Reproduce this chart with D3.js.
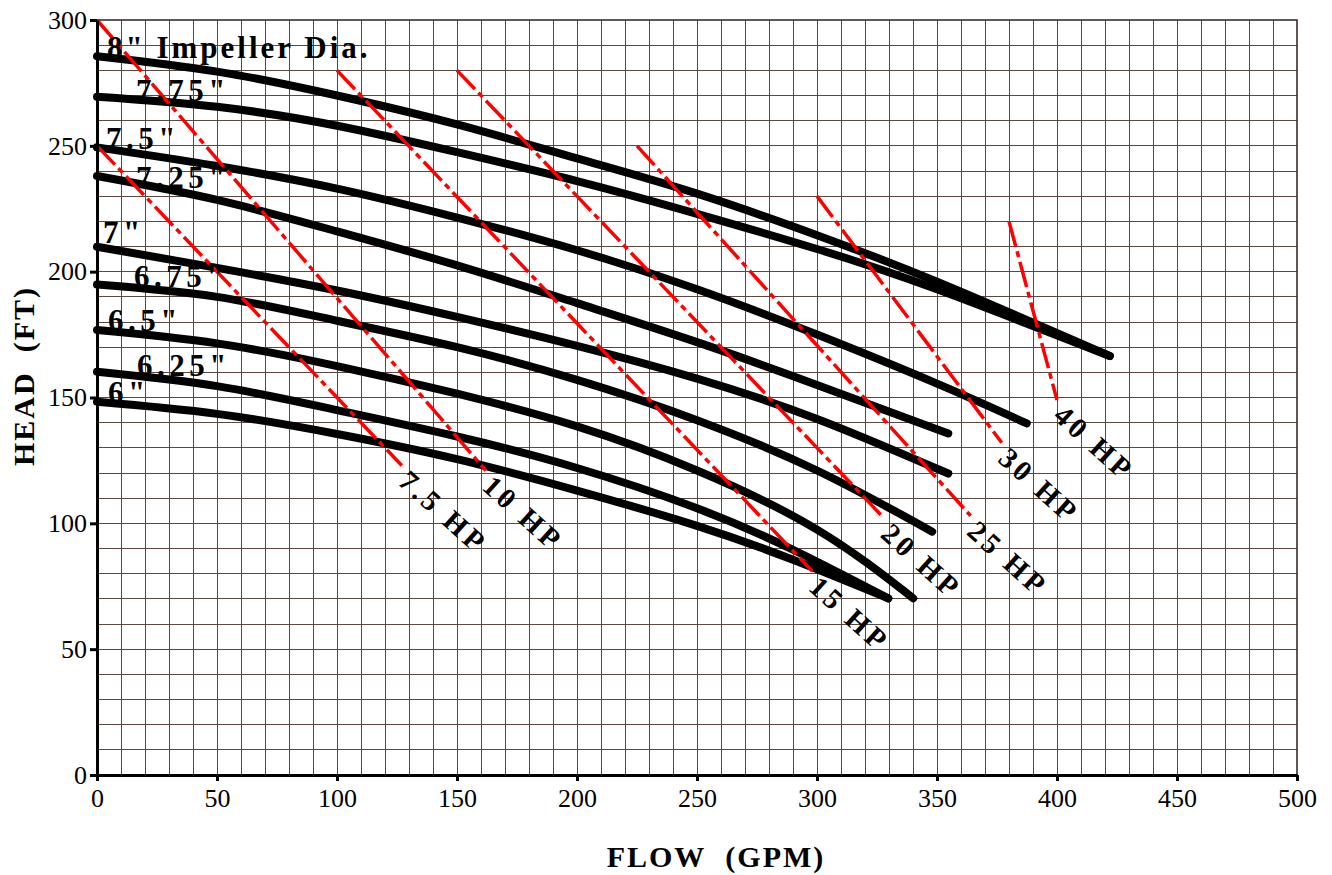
<!DOCTYPE html>
<html><head><meta charset="utf-8">
<script src="https://cdn.jsdelivr.net/npm/d3@7"></script>
<style>
html,body{margin:0;padding:0;background:#fff;}
svg{display:block;font-family:"Liberation Serif","Times New Roman",serif;}
</style></head><body>
<svg id="chart" width="1332" height="875"></svg>
<script>
// ---------------- DATA ----------------
const diameterLabels = ['8" Impeller Dia.', '7.75"', '7.5"', '7.25"', '7"', '6.75"', '6.5"', '6.25"', '6"'];

const flow800 = [0, 50, 100, 150, 200, 250, 300, 350, 422];
const head800 = [285.6, 279.5, 270, 258.5, 245, 231, 214.5, 196, 166.5];
const flow775 = [0, 50, 100, 150, 200, 250, 300, 350, 422];
const head775 = [269.5, 265.5, 258, 247.5, 236, 223, 209, 193, 166.5];
const flow750 = [0, 50, 100, 150, 200, 250, 300, 350, 387.4];
const head750 = [249.4, 242, 233, 221.5, 208.5, 193, 175, 155.5, 139.7];
const flow725 = [0, 50, 100, 150, 200, 250, 300, 354.7];
const head725 = [238, 228.5, 216, 202.5, 187.5, 172, 155, 135.7];
const flow700 = [0, 50, 100, 150, 200, 250, 300, 354.7];
const head700 = [209.9, 201.5, 192.5, 182, 170.5, 157.5, 141.5, 119.8];
const flow675 = [0, 50, 100, 150, 200, 250, 300, 348];
const head675 = [194.9, 190, 180.5, 170, 157, 141, 121, 96.7];
const flow650 = [0, 50, 100, 150, 200, 250, 300, 340.1];
const head650 = [176.8, 171.5, 162.5, 151.5, 138.5, 121, 97.5, 70.2];
const flow625 = [0, 50, 100, 150, 200, 250, 290, 329.7];
const head625 = [160.2, 154.5, 145, 134.5, 122, 106, 89.5, 70.2];
const flow600 = [0, 50, 100, 150, 200, 250, 290, 329.7];
const head600 = [148.3, 143.5, 135.5, 125.5, 113, 99, 85.5, 70.2];

const curveFlows = [flow800, flow775, flow750, flow725, flow700, flow675, flow650, flow625, flow600];
const curveHeads = [head800, head775, head750, head725, head700, head675, head650, head625, head600];

const hpLabels     = ['7.5 HP', '10 HP', '15 HP', '20 HP', '25 HP', '30 HP', '40 HP'];
const hpStartFlow  = [0, 0, 100, 150, 225, 300, 380];
const hpStartHead  = [250, 300, 280, 280, 250, 230, 220];
const hpEndFlow    = [127, 162, 298, 328, 364, 377, 400];
const hpEndHead    = [123, 121, 81, 102, 103, 132, 149];

const xTicks = [0, 50, 100, 150, 200, 250, 300, 350, 400, 450, 500];
const yTicks = [0, 50, 100, 150, 200, 250, 300];
const xTitle = 'FLOW\u00a0\u00a0(GPM)';
const yTitle = 'HEAD\u00a0\u00a0(FT)';

// ---------------- LAYOUT ----------------
const svg = d3.select('#chart');
const x = d3.scaleLinear().domain([0, 500]).range([97, 1297]);
const y = d3.scaleLinear().domain([0, 300]).range([775, 20]);

// grid
const grid = svg.append('g').attr('shape-rendering', 'crispEdges')
  .attr('stroke', '#5b4640').attr('stroke-width', 1);
grid.selectAll('line.v').data(d3.range(10, 500, 10)).enter().append('line')
  .attr('x1', d => x(d)).attr('x2', d => x(d)).attr('y1', y(300)).attr('y2', y(0));
grid.selectAll('line.h').data(d3.range(10, 300, 10)).enter().append('line')
  .attr('class', 'h')
  .attr('x1', x(0)).attr('x2', x(500)).attr('y1', d => y(d)).attr('y2', d => y(d));

// frame (top / right)
svg.append('rect').attr('x', x(0)).attr('y', y(300))
  .attr('width', x(500) - x(0)).attr('height', y(0) - y(300))
  .attr('fill', 'none').attr('stroke', '#3e2c28').attr('stroke-width', 1.6);

// pump curves
const line = d3.line().x(d => x(d[0])).y(d => y(d[1])).curve(d3.curveNatural);
svg.append('g').selectAll('path').data(curveFlows.map((f, i) => f.map((q, j) => [q, curveHeads[i][j]])))
  .enter().append('path')
  .attr('d', line).attr('fill', 'none').attr('stroke', '#000')
  .attr('stroke-width', 8).attr('stroke-linecap', 'round').attr('stroke-linejoin', 'round');

// HP lines
svg.append('g').selectAll('line').data(hpLabels).enter().append('line')
  .attr('x1', (d, i) => x(hpStartFlow[i])).attr('y1', (d, i) => y(hpStartHead[i]))
  .attr('x2', (d, i) => x(hpEndFlow[i])).attr('y2', (d, i) => y(hpEndHead[i]))
  .attr('stroke', '#ff0000').attr('stroke-width', 3.5)
  .attr('stroke-dasharray', '26,5,6,5');

// HP labels
svg.append('g').selectAll('text').data(hpLabels).enter().append('text')
  .attr('transform', (d, i) => `translate(${x(hpEndFlow[i]) - 5},${y(hpEndHead[i]) + 18}) rotate(42)`)
  .attr('font-size', 29).attr('font-weight', 'bold').attr('letter-spacing', 4)
  .attr('fill', '#000').text(d => d);

// diameter labels
const labelDx = [10, 39, 9, 39, 6, 37, 11, 40, 11];
const labelDy = [1.5, 4.4, 1.7, 11.6, -3.4, 2.6, 1, 4.4, 1];
svg.append('g').selectAll('text').data(diameterLabels).enter().append('text')
  .attr('x', (d, i) => x(0) + labelDx[i])
  .attr('y', (d, i) => y(curveHeads[i][0]) + labelDy[i])
  .attr('font-size', 31).attr('font-weight', 'bold')
  .attr('letter-spacing', (d, i) => i === 0 ? 3 : 4.5)
  .attr('fill', '#000').text(d => d);

// axes
const axB = svg.append('g').attr('transform', `translate(0,${y(0)})`)
  .call(d3.axisBottom(x).tickValues(xTicks).tickFormat(d3.format('d')).tickSize(6).tickSizeOuter(0).tickPadding(7.5));
const axL = svg.append('g').attr('transform', `translate(${x(0)},0)`)
  .call(d3.axisLeft(y).tickValues(yTicks).tickFormat(d3.format('d')).tickSize(7).tickSizeOuter(0).tickPadding(3));
[axB, axL].forEach(a => {
  a.select('.domain').attr('stroke', '#000').attr('stroke-width', 3);
  a.selectAll('.tick line').attr('stroke', '#000').attr('stroke-width', 3);
  a.selectAll('.tick text').attr('font-size', 26).attr('fill', '#000')
    .attr('font-family', '"Liberation Serif","Times New Roman",serif');
});

// titles
svg.append('text').attr('x', 716).attr('y', 867).attr('text-anchor', 'middle')
  .attr('font-size', 30).attr('font-weight', 'bold').attr('letter-spacing', 2).text(xTitle);
svg.append('text').attr('transform', 'translate(34,376) rotate(-90)').attr('text-anchor', 'middle')
  .attr('font-size', 30).attr('font-weight', 'bold').attr('letter-spacing', 2).text(yTitle);
</script>
</body></html>
